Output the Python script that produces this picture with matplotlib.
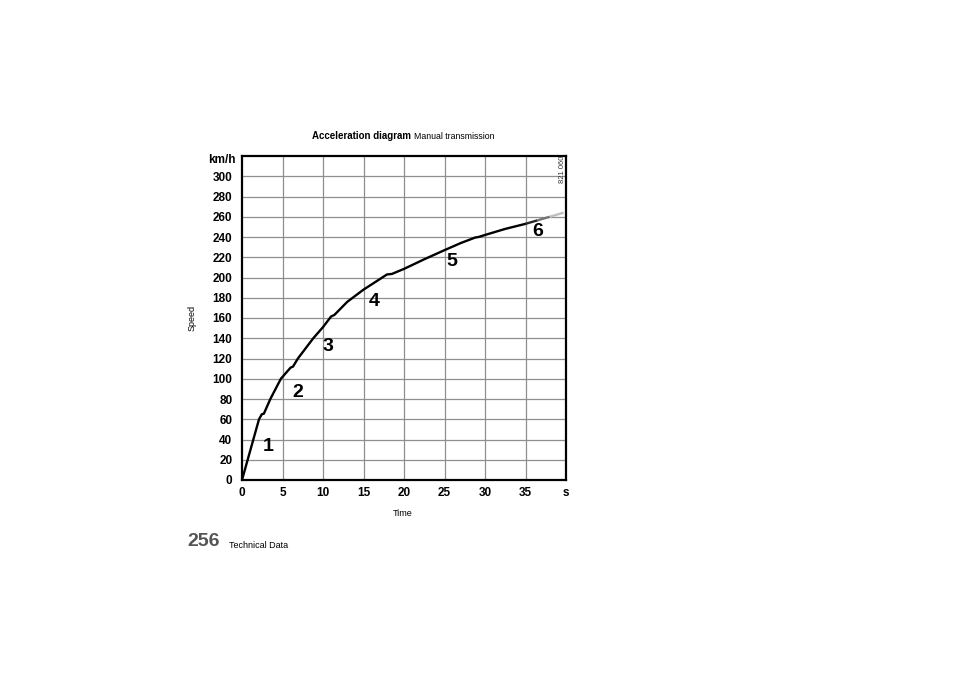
import numpy as np
import matplotlib
matplotlib.use("Agg")
import matplotlib.pyplot as plt
from matplotlib.collections import LineCollection

# acceleration curve, small flat steps at each gear change
time_s = [0, 0.7, 1.4, 2.1, 2.45, 2.7, 3.5, 4.8, 6.0, 6.3, 6.9, 8.8, 10.0,
          11.0, 11.4, 13.0, 15.0, 17.9, 18.5, 20.0, 22.5, 25.0, 27.0, 28.8,
          29.2, 30.0, 32.5, 35.0, 36.5, 38.0, 39.7]
speed_kmh = [0, 20, 40, 60, 65, 65.5, 80, 100, 111, 112, 120, 140, 151,
             161.5, 163, 176, 188, 203, 203.5, 208.5, 218, 227, 234, 239.5,
             240, 242, 248, 253, 256.5, 260, 264]
fade_from = 35.0  # curve fades out to grey after this time

gears = ["1", "2", "3", "4", "5", "6"]
gear_t = [3.2, 6.9, 10.6, 16.3, 25.9, 36.5]
gear_v = [33, 86, 132, 176, 216, 245]

x_ticks = [0, 5, 10, 15, 20, 25, 30, 35]
y_ticks = list(range(0, 301, 20))

W, H = 960, 678
fig = plt.figure(figsize=(W / 100, H / 100), dpi=100)
fig.patch.set_facecolor("white")

def fx(px):
    return px / W

def fy(py):
    return 1 - py / H

ax = fig.add_axes([fx(242), fy(480), fx(566) - fx(242), fy(156) - fy(480)])
ax.set_xlim(0, 40)
ax.set_ylim(0, 320)

for t in x_ticks[1:]:
    ax.axvline(t, color="#8f8f8f", lw=0.9, zorder=1)
for v in y_ticks[1:]:
    ax.axhline(v, color="#8f8f8f", lw=0.9, zorder=1)

for s in ax.spines.values():
    s.set_linewidth(1.6)
    s.set_color("black")

bold = dict(family=["Liberation Sans", "DejaVu Sans"], weight="bold")
plain = ["Liberation Sans", "DejaVu Sans"]

ax.set_xticks(x_ticks + [40])
ax.set_xticklabels([str(t) for t in x_ticks] + ["s"], fontsize=8.5, **bold)
ax.set_yticks(y_ticks)
ax.set_yticklabels([str(v) for v in y_ticks], fontsize=8.5, **bold)
ax.tick_params(length=0)
ax.tick_params(axis="x", pad=5)
ax.tick_params(axis="y", pad=7)

t = np.array(time_s)
v = np.array(speed_kmh)
main = t <= fade_from
ax.plot(t[main], v[main], color="black", lw=1.7, zorder=3,
        solid_capstyle="round", solid_joinstyle="round")

tail = t >= fade_from
pts = np.column_stack([t[tail], v[tail]])
segs = np.stack([pts[:-1], pts[1:]], axis=1)
greys = np.linspace(0.15, 0.75, len(segs))
lc = LineCollection(segs, colors=[(g, g, g) for g in greys], lw=1.7, zorder=3)
ax.add_collection(lc)

for g, gt, gv in zip(gears, gear_t, gear_v):
    ax.text(gt, gv, g, fontsize=14, ha="center", va="center", zorder=4, **bold)

ax.text(39.6, 307, "821 060", rotation=90, fontsize=5.5, ha="center",
        va="center", family=plain, color="#333333")

fig.text(fx(236), fy(160), "km/h", fontsize=8.5, ha="right", va="center", **bold)

fig.text(fx(411), fy(136), "Acceleration diagram", fontsize=7, ha="right",
         va="center", family=plain, weight="bold")
fig.text(fx(414), fy(136.5), "Manual transmission", fontsize=6.3, ha="left",
         va="center", family=plain)

fig.text(fx(192), fy(318), "Speed", rotation=90, fontsize=6.5, ha="center",
         va="center", family=plain)
fig.text(fx(403), fy(514), "Time", fontsize=6.5, ha="center", va="center",
         family=plain)

fig.text(fx(187), fy(541), "256", fontsize=14, ha="left", va="center",
         color="#555555", **bold)
fig.text(fx(229), fy(546), "Technical Data", fontsize=6.5, ha="left",
         va="center", family=plain)

fig.savefig("out.png", dpi=100)
